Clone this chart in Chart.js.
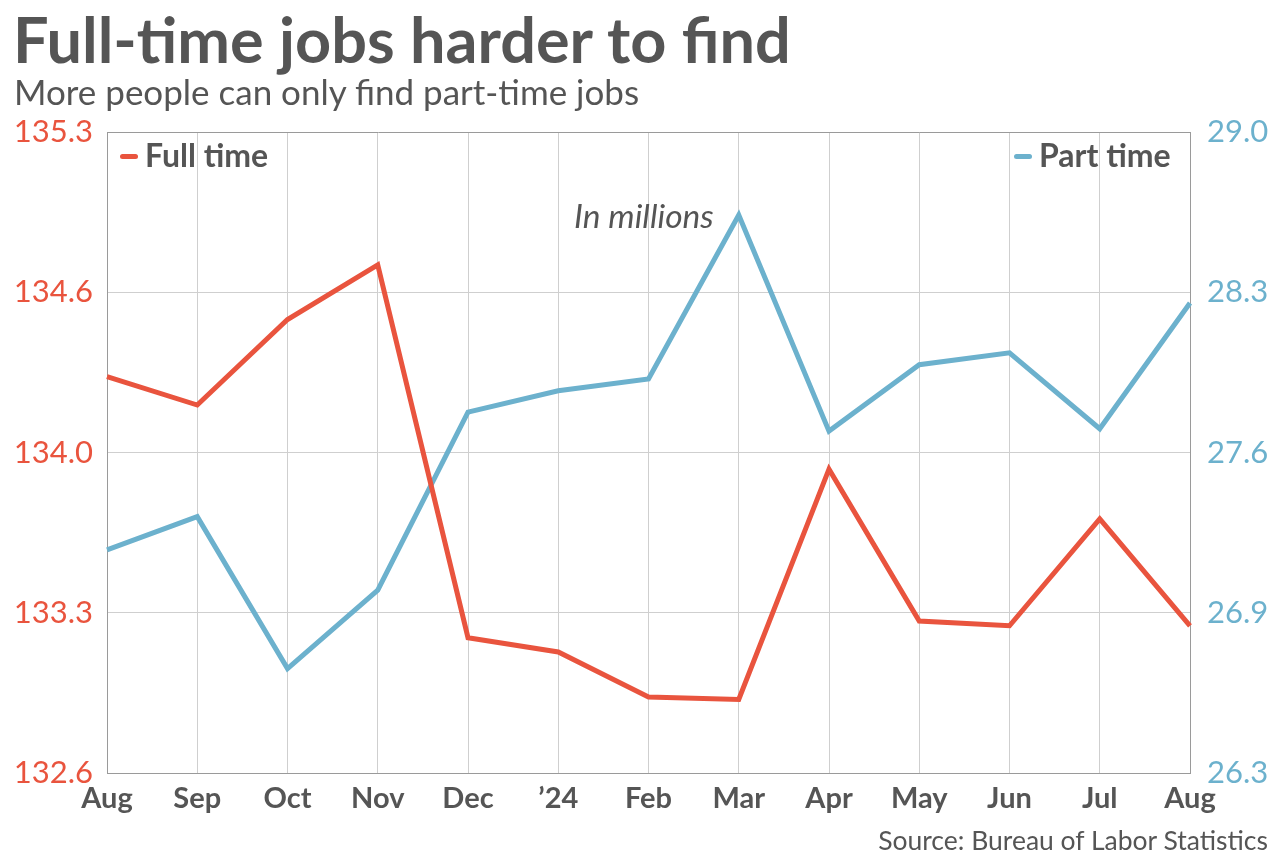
<!DOCTYPE html>
<html>
<head>
<meta charset="utf-8">
<script src="https://cdn.jsdelivr.net/npm/chart.js@4"></script>
<style>
  html, body { margin: 0; padding: 0; background: #fff; }
  body { width: 1280px; height: 862px; position: relative; overflow: hidden; font-family: Lato, sans-serif; color: #555; }
  #wrap { position: absolute; left: 0; top: 0; width: 1280px; height: 862px; }
  .txt { position: absolute; white-space: nowrap; }
  #title { left: 13px; top: 1px; font-size: 63px; font-weight: 700; }
  #sub { left: 14px; top: 70px; font-size: 35px; font-weight: 400; }
  #src { right: 12px; top: 824px; font-size: 26.5px; }
  #unit { left: 574px; top: 195px; font-size: 33.5px; font-style: italic; }
  .leg { top: 135px; font-size: 32px; font-weight: 700; }
  .leg i { display: inline-block; width: 18px; height: 5px; border-radius: 3px; vertical-align: middle; margin-right: 7px; position: relative; top: -2px; }
</style>
</head>
<body>
<div id="wrap"><canvas id="c" width="1280" height="862"></canvas></div>
<div class="txt" id="title">Full-time jobs harder to find</div>
<div class="txt" id="sub">More people can only find part-time jobs</div>
<div class="txt" id="unit">In millions</div>
<div class="txt leg" style="left:120px"><i style="background:#e9543e"></i>Full time</div>
<div class="txt leg" style="left:1014px"><i style="background:#6cb1cd"></i>Part time</div>
<div class="txt" id="src">Source: Bureau of Labor Statistics</div>
<script>
// data, in millions
const months = ['Aug', 'Sep', 'Oct', 'Nov', 'Dec', '\u201924', 'Feb', 'Mar', 'Apr', 'May', 'Jun', 'Jul', 'Aug'];
const fullTime = [134.27, 134.15, 134.51, 134.74, 133.17, 133.11, 132.92, 132.91, 133.88, 133.24, 133.22, 133.67, 133.22];
const partTime = [27.24, 27.38, 26.74, 27.07, 27.82, 27.91, 27.96, 28.65, 27.74, 28.02, 28.07, 27.75, 28.28];

const leftMin = 132.6, leftMax = 135.3;
const rightMin = 26.3, rightMax = 29.0;
const leftTickLabels = ['132.6', '133.3', '134.0', '134.6', '135.3'];
const rightTickLabels = ['26.3', '26.9', '27.6', '28.3', '29.0'];

const RED = '#e9543e';
const BLUE = '#6cb1cd';
const GRID = '#cfcfcf';
const EDGE = '#9a9a9a';

function evenTicks(min, max, n) {
    const out = [];
    for (let i = 0; i < n; i++) out.push({ value: min + (max - min) * i / (n - 1) });
    return out;
}

const ctx = document.getElementById('c').getContext('2d');
const chart = new Chart(ctx, {
    type: 'line',
    data: {
        labels: months,
        datasets: [
            {
                label: 'Full time',
                data: fullTime,
                yAxisID: 'yL',
                borderColor: RED,
                borderWidth: 5,
                pointRadius: 0,
                tension: 0,
                fill: false
            },
            {
                label: 'Part time',
                data: partTime,
                yAxisID: 'yR',
                borderColor: BLUE,
                borderWidth: 5,
                pointRadius: 0,
                tension: 0,
                fill: false
            }
        ]
    },
    options: {
        responsive: false,
        animation: false,
        layout: { padding: { top: 132, bottom: 39, left: 0, right: 0 } },
        plugins: { legend: { display: false }, tooltip: { enabled: false } },
        scales: {
            x: {
                offset: false,
                grid: {
                    drawTicks: false,
                    color: c => (c.index === 0 || c.index === months.length - 1) ? EDGE : GRID,
                    lineWidth: 1
                },
                border: { display: true, color: EDGE },
                ticks: {
                    color: '#555',
                    padding: 8,
                    maxRotation: 0,
                    autoSkip: false,
                    font: { family: 'Lato', size: 29, weight: 'bold' }
                },
                afterFit: s => { s.height = 50; }
            },
            yL: {
                position: 'left',
                min: leftMin,
                max: leftMax,
                afterBuildTicks: s => { s.ticks = evenTicks(leftMin, leftMax, leftTickLabels.length); },
                grid: {
                    drawTicks: false,
                    color: c => (c.index === 0 || c.index === leftTickLabels.length - 1) ? EDGE : GRID
                },
                border: { display: true, color: EDGE },
                ticks: {
                    color: RED,
                    padding: 14,
                    font: { family: 'Lato', size: 31 },
                    callback: (v, i) => leftTickLabels[i]
                },
                afterFit: s => { s.width = 107; }
            },
            yR: {
                position: 'right',
                min: rightMin,
                max: rightMax,
                afterBuildTicks: s => { s.ticks = evenTicks(rightMin, rightMax, rightTickLabels.length); },
                grid: { display: false, drawTicks: false },
                border: { display: true, color: EDGE },
                ticks: {
                    color: BLUE,
                    padding: 17,
                    font: { family: 'Lato', size: 31 },
                    callback: (v, i) => rightTickLabels[i]
                },
                afterFit: s => { s.width = 90; }
            }
        }
    }
});
</script>
</body>
</html>
